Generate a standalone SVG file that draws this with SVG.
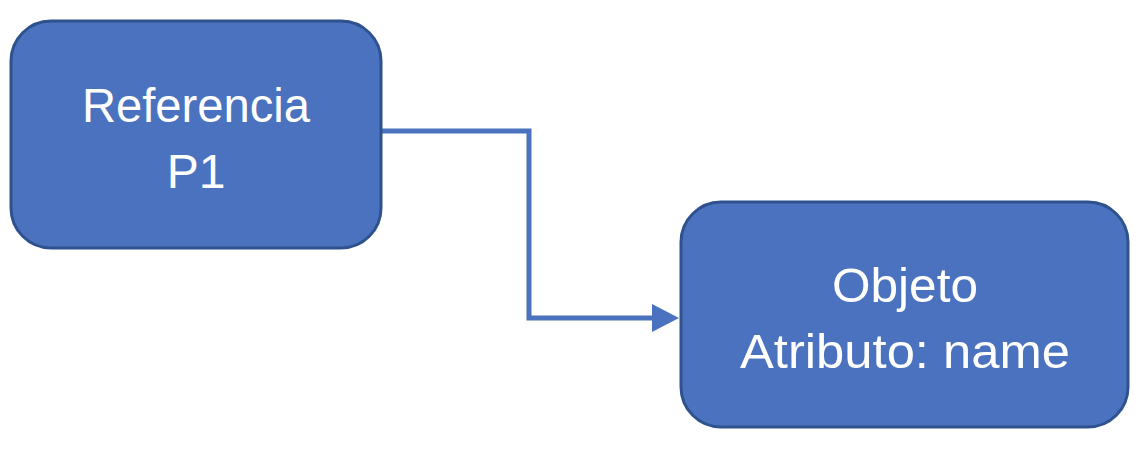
<svg xmlns="http://www.w3.org/2000/svg" width="1144" height="452" viewBox="0 0 1144 452">
<style>
.box{fill:#4A72BE;stroke:#2F528F;stroke-width:3}
.lbl{font-family:"Liberation Sans",Arial,sans-serif;font-size:48px;fill:#FFFFFF;text-anchor:middle}
.conn{fill:none;stroke:#4A72BE;stroke-width:5}
</style>
<defs>
<marker id="arrow" markerUnits="userSpaceOnUse" markerWidth="28" markerHeight="28" refX="0" refY="14" orient="auto">
<path d="M0,0 L27,14 L0,28 Z" fill="#4A72BE"/>
</marker>
</defs>
<g id="connectors">
<path class="conn" d="M381,131 H529 V318 H652" marker-end="url(#arrow)"/>
</g>
<g id="node-referencia">
<rect class="box" x="11" y="21" width="370" height="227" rx="40" ry="40"/>
<text class="lbl" x="196" y="122" textLength="228" lengthAdjust="spacingAndGlyphs">Referencia</text>
<text class="lbl" x="196" y="188">P1</text>
</g>
<g id="node-objeto">
<rect class="box" x="681" y="202" width="447" height="225" rx="40" ry="40"/>
<text class="lbl" x="905" y="302" textLength="146" lengthAdjust="spacingAndGlyphs">Objeto</text>
<text class="lbl" x="905" y="368" textLength="330" lengthAdjust="spacingAndGlyphs">Atributo: name</text>
</g>
</svg>
